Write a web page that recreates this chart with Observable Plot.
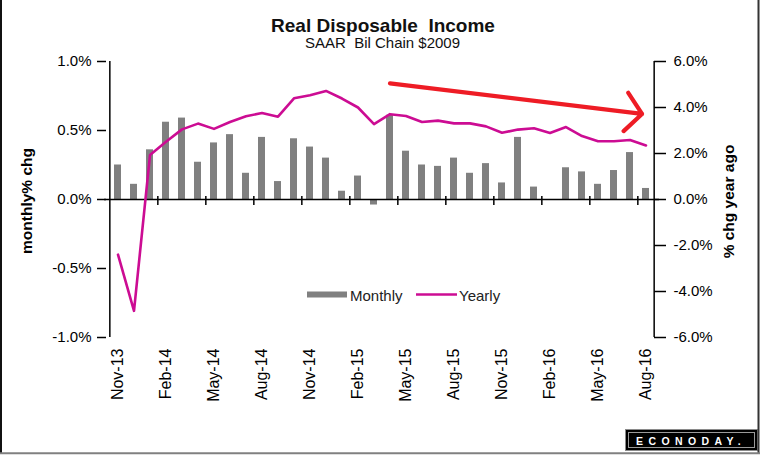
<!DOCTYPE html>
<html>
<head>
<meta charset="utf-8">
<script src="https://cdn.jsdelivr.net/npm/d3@7"></script>
<script src="https://cdn.jsdelivr.net/npm/@observablehq/plot@0.6"></script>
<style>
  html, body { margin: 0; padding: 0; background: #fff; }
  #wrap { position: relative; width: 762px; height: 457px; overflow: hidden; font-family: "Liberation Sans", Arial, sans-serif; }
  #wrap > svg { position: absolute; left: 0; top: 0; }
  #overlay { pointer-events: none; }
  #overlay text { white-space: pre; }
</style>
</head>
<body>
<div id="wrap"></div>
<script>
// ---- data ----
const months = ["Nov-13","Dec-13","Jan-14","Feb-14","Mar-14","Apr-14","May-14","Jun-14","Jul-14","Aug-14","Sep-14","Oct-14",
  "Nov-14","Dec-14","Jan-15","Feb-15","Mar-15","Apr-15","May-15","Jun-15","Jul-15","Aug-15","Sep-15","Oct-15",
  "Nov-15","Dec-15","Jan-16","Feb-16","Mar-16","Apr-16","May-16","Jun-16","Jul-16","Aug-16"];
const monthly = [0.25,0.11,0.36,0.56,0.59,0.27,0.41,0.47,0.19,0.45,0.13,0.44,
  0.38,0.30,0.06,0.17,-0.04,0.61,0.35,0.25,0.24,0.30,0.19,0.26,
  0.12,0.45,0.09,0.00,0.23,0.20,0.11,0.21,0.34,0.08];
const yearly = [-2.40,-4.84,1.93,2.51,3.05,3.30,3.07,3.37,3.62,3.76,3.60,4.40,
  4.53,4.72,4.39,4.00,3.28,3.71,3.63,3.37,3.43,3.31,3.31,3.18,
  2.90,3.04,3.10,2.89,3.15,2.76,2.53,2.53,2.59,2.35];
const labelMonths = ["Nov-13","Feb-14","May-14","Aug-14","Nov-14","Feb-15","May-15","Aug-15","Nov-15","Feb-16","May-16","Aug-16"];
const leftTicks = [-1.0, -0.5, 0.0, 0.5, 1.0];
const rightTicks = [-6, -4, -2, 0, 2, 4, 6];
const rightMax = 6;            // right axis spans -6% .. 6%
const trendFrom = "Apr-15", trendTo = "Aug-16";
const trendValues = [5.05, 3.70]; // hand-drawn arrow, in right-axis % units

// ---- layout ----
const W = 762, H = 457;
const mL = 104, mR = 103, mT = 61, mB = 120;
const step = (W - mL - mR) / months.length;

const data = months.map((m, i) => ({month: m, monthly: monthly[i], yearly: yearly[i]}));
const boundaryMonths = labelMonths.slice(1);
const trend = [{x1: trendFrom, x2: trendTo, y1: trendValues[0] / rightMax, y2: trendValues[1] / rightMax}];

const BAR = "#808080", LINE = "#cc0c93", RED = "#ee1c25";

const chart = Plot.plot({
  width: W, height: H,
  marginLeft: mL, marginRight: mR, marginTop: mT, marginBottom: mB,
  style: {fontFamily: "'Liberation Sans', Arial, sans-serif", fontSize: "15px", color: "#000", background: "transparent", overflow: "visible"},
  x: {type: "band", domain: months, paddingInner: 0.55, paddingOuter: 0.275, align: 0.5, axis: null},
  y: {domain: [-1, 1], axis: null},
  marks: [
    Plot.barY(data, {x: "month", y: "monthly", fill: BAR}),
    Plot.ruleY([0], {stroke: "#000", strokeWidth: 1.5}),
    Plot.ruleX(boundaryMonths, {x: d => d, y1: 0, y2: 0, insetTop: -3, insetBottom: -6, dx: -step / 2, stroke: "#000", strokeWidth: 1.5}),
    Plot.ruleX([months[0]], {x: d => d, y1: -1, y2: 1, dx: -step / 2, stroke: "#000", strokeWidth: 1.5}),
    Plot.ruleX([months[months.length - 1]], {x: d => d, y1: -1, y2: 1, dx: step / 2, stroke: "#000", strokeWidth: 1.5}),
    Plot.axisY({anchor: "left", ticks: leftTicks, tickSize: 9, dx: 2, tickPadding: 6,
      tickFormat: d => d.toFixed(1) + "%", strokeWidth: 1.5, fill: "#000", label: null}),
    Plot.axisY({anchor: "right", ticks: rightTicks.map(v => v / rightMax), tickSize: 12, dx: -6, tickPadding: 8,
      tickFormat: d => (d * rightMax).toFixed(1) + "%", strokeWidth: 1.5, fill: "#000", label: null}),
    Plot.axisX({anchor: "bottom", ticks: labelMonths, tickSize: 0, tickPadding: 11, tickRotate: -90,
      fontSize: 16, fill: "#000", label: null}),
    Plot.lineY(data, {x: "month", y: d => d.yearly / rightMax, stroke: LINE, strokeWidth: 2.6}),
    Plot.arrow(trend, {x1: "x1", y1: "y1", x2: "x2", y2: "y2", stroke: RED, strokeWidth: 4.2,
      headAngle: 100, headLength: 9, insetEnd: 4})
  ]
});
const wrap = document.getElementById("wrap");
wrap.appendChild(chart);

// ---- overlay: titles, axis titles, legend, logo, frame ----
const ns = "http://www.w3.org/2000/svg";
const ov = document.createElementNS(ns, "svg");
ov.setAttribute("id", "overlay");
ov.setAttribute("width", W); ov.setAttribute("height", H);
ov.style.fontFamily = "'Liberation Sans', Arial, sans-serif";
wrap.appendChild(ov);
function el(tag, attrs, text) {
  const e = document.createElementNS(ns, tag);
  for (const k in attrs) e.setAttribute(k, attrs[k]);
  if (text != null) e.textContent = text;
  ov.appendChild(e);
  return e;
}
el("text", {x: 383, y: 31.5, "text-anchor": "middle", "font-size": 19, "font-weight": "bold", fill: "#111"}, "Real Disposable  Income");
el("text", {x: 382.5, y: 48, "text-anchor": "middle", "font-size": 15, fill: "#111"}, "SAAR  Bil Chain $2009");
el("text", {transform: "translate(32,201) rotate(-90)", "text-anchor": "middle", "font-size": 15.5, "font-weight": "bold", fill: "#000"}, "monthly% chg");
el("text", {transform: "translate(734,201.5) rotate(-90)", "text-anchor": "middle", "font-size": 15.5, "font-weight": "bold", fill: "#000"}, "% chg year ago");
// legend
el("rect", {x: 307, y: 291.5, width: 40, height: 6, fill: BAR});
el("text", {x: 350, y: 301, "font-size": 15, fill: "#222"}, "Monthly");
el("line", {x1: 416, x2: 457, y1: 294.5, y2: 294.5, stroke: LINE, "stroke-width": 2.6});
el("text", {x: 459, y: 301, "font-size": 15, fill: "#222"}, "Yearly");
// logo
el("rect", {x: 625.5, y: 429.5, width: 132, height: 21, fill: "#000", stroke: "#8a8a8a", "stroke-width": 1});
el("rect", {x: 628.5, y: 432.5, width: 126, height: 15, fill: "none", stroke: "#9a9a9a", "stroke-width": 1});
el("text", {x: 636, y: 445, "font-size": 10.5, "font-weight": "bold", fill: "#fff", "letter-spacing": 5.4}, "ECONODAY.");
// frame
el("line", {x1: 1, x2: 1, y1: 0, y2: 454, stroke: "#111", "stroke-width": 2});
el("line", {x1: 758.5, x2: 758.5, y1: 0, y2: 454, stroke: "#333", "stroke-width": 2});
el("line", {x1: 0, x2: 760, y1: 453.3, y2: 453.3, stroke: "#808080", "stroke-width": 2});
</script>
</body>
</html>
